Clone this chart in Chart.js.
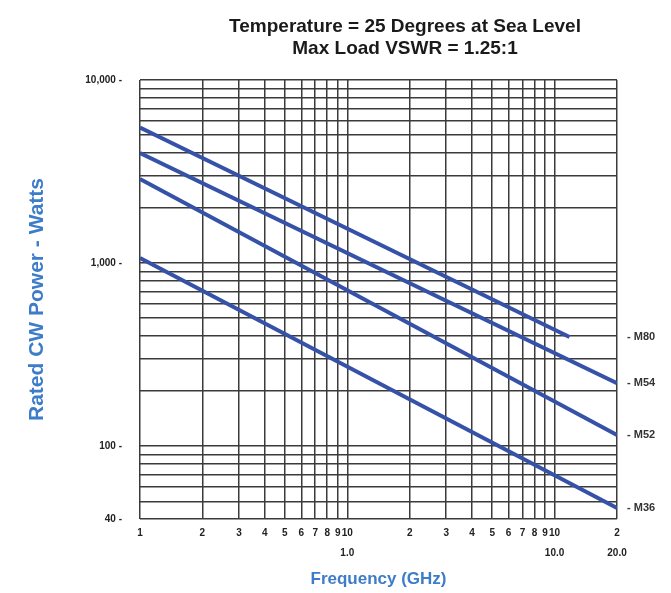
<!DOCTYPE html>
<html>
<head>
<meta charset="utf-8">
<script src="https://cdn.jsdelivr.net/npm/chart.js@4/dist/chart.umd.min.js"></script>
<style>
  html, body { margin: 0; padding: 0; background: #fff; }
  #wrap { width: 671px; height: 593px; position: relative; }
</style>
</head>
<body>
<div id="wrap"><canvas id="chart"></canvas></div>
<script>
// values (log-log, straight lines)
const seriesNames = ['M80', 'M54', 'M52', 'M36'];
const freqM80 = [0.1, 11.8];
const powerM80 = [5500, 395];
const freqM54 = [0.1, 20];
const powerM54 = [3990, 221];
const freqM52 = [0.1, 20];
const powerM52 = [2880, 115];
const freqM36 = [0.1, 20];
const powerM36 = [1065, 46];

const freqTicks = [0.1, 0.2, 0.3, 0.4, 0.5, 0.6, 0.7, 0.8, 0.9, 1, 2, 3, 4, 5, 6, 7, 8, 9, 10, 20];
const freqTickLabels = ['1', '2', '3', '4', '5', '6', '7', '8', '9', ['10', '1.0'],
  '2', '3', '4', '5', '6', '7', '8', '9', ['10', '10.0'], ['2', '20.0']];
const powerTicks = [40, 50, 60, 70, 80, 90, 100, 200, 300, 400, 500, 600, 700, 800, 900,
  1000, 2000, 3000, 4000, 5000, 6000, 7000, 8000, 9000, 10000];
const powerTickLabels = { 40: '40 -', 100: '100 -', 1000: '1,000 -', 10000: '10,000 -' };

const titleLines = ['Temperature = 25 Degrees at Sea Level', 'Max Load VSWR = 1.25:1'];

const lineColor = '#3552a8';
const gridColor = '#3b3b3b';
const blue = '#3d7cc9';
const fam = '"Liberation Sans", Arial, sans-serif';

function pts(xs, ys) {
  return xs.map((x, i) => ({ x: x, y: ys[i] }));
}
const allX = [freqM80, freqM54, freqM52, freqM36];
const allY = [powerM80, powerM54, powerM52, powerM36];

const datasets = seriesNames.map((name, i) => ({
  label: name,
  data: pts(allX[i], allY[i]),
  borderColor: lineColor,
  borderWidth: 4,
  pointRadius: 0,
  fill: false
}));

const extras = {
  id: 'extras',
  afterDraw(chart) {
    const ctx = chart.ctx;
    const y = chart.scales.y;
    ctx.save();
    // title
    ctx.fillStyle = '#1a1a1a';
    ctx.font = 'bold 19px ' + fam;
    ctx.textAlign = 'center';
    ctx.textBaseline = 'middle';
    ctx.fillText(titleLines[0], 405, 27);
    ctx.fillText(titleLines[1], 405, 49);
    // series labels at the right
    ctx.font = 'bold 11px ' + fam;
    ctx.textAlign = 'left';
    ctx.fillStyle = '#333';
    seriesNames.forEach((name, i) => {
      const ys = allY[i];
      const py = y.getPixelForValue(ys[ys.length - 1]);
      ctx.fillText('- ' + name, chart.chartArea.right + 10, py);
    });
    ctx.restore();
  }
};

new Chart(document.getElementById('chart'), {
  type: 'line',
  data: { datasets: datasets },
  options: {
    responsive: true,
    maintainAspectRatio: false,
    animation: false,
    layout: { padding: { top: 80, right: 54, left: 25, bottom: 0 } },
    plugins: {
      legend: { display: false },
      tooltip: { enabled: false }
    },
    scales: {
      x: {
        type: 'logarithmic',
        min: 0.1,
        max: 20,
        afterBuildTicks: (s) => { s.ticks = freqTicks.map(v => ({ value: v })); },
        afterFit: (s) => { s.height = 74; },
        ticks: {
          autoSkip: false,
          maxRotation: 0,
          padding: 4,
          color: '#222',
          font: { size: 10, weight: 'bold', family: fam, lineHeight: 2.0 },
          callback: (v, i) => freqTickLabels[i]
        },
        grid: { color: gridColor, lineWidth: 1.5, drawTicks: false },
        border: { display: false },
        title: {
          display: true,
          text: 'Frequency (GHz)',
          color: blue,
          font: { size: 17, weight: 'bold', family: fam },
          padding: { top: 0, bottom: 3 }
        }
      },
      y: {
        type: 'logarithmic',
        min: 40,
        max: 10000,
        afterBuildTicks: (s) => { s.ticks = powerTicks.map(v => ({ value: v })); },
        afterFit: (s) => { s.width = 115; },
        ticks: {
          autoSkip: false,
          padding: 18,
          color: '#222',
          font: { size: 10, weight: 'bold', family: fam },
          callback: (v) => powerTickLabels[v] || ''
        },
        grid: { color: gridColor, lineWidth: 1.5, drawTicks: false },
        border: { display: false },
        title: {
          display: true,
          text: 'Rated CW Power - Watts',
          color: blue,
          font: { size: 21, weight: 'bold', family: fam },
          padding: { top: 0, bottom: 0 }
        }
      }
    }
  },
  plugins: [extras]
});
</script>
</body>
</html>
